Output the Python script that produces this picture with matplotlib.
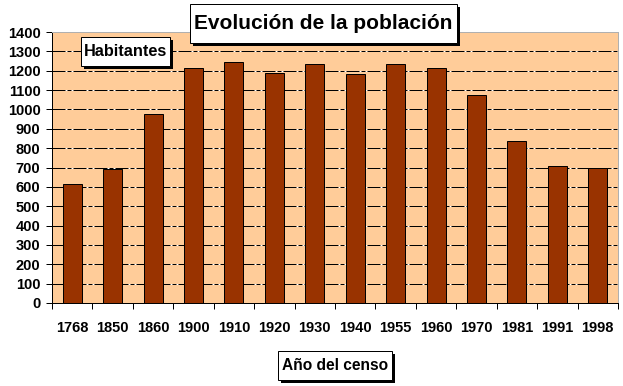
import matplotlib
matplotlib.use('Agg')
import matplotlib.pyplot as plt
from matplotlib.patches import Rectangle
import numpy as np

plt.rcParams['font.family'] = ['Liberation Sans', 'DejaVu Sans']

years = ['1768', '1850', '1860', '1900', '1910', '1920', '1930',
         '1940', '1955', '1960', '1970', '1981', '1991', '1998']
habitantes = [615, 692, 976, 1214, 1245, 1188, 1234,
              1183, 1234, 1214, 1074, 837, 708, 697]

W, H = 623, 386
PX = 72 / 100  # one pixel in points

fig = plt.figure(figsize=(W / 100, H / 100), dpi=100)
ax = fig.add_axes([52 / W, 1 - 303 / H, 566 / W, 271 / H])
ax.set_facecolor('#FFCC99')

x = np.arange(len(years))
ax.set_xlim(-0.5, len(years) - 0.5)
ax.set_ylim(0, 1400)

# gridlines: white base with black dash-dot on top
for v in range(100, 1500, 100):
    ax.axhline(v, color='white', lw=PX, zorder=1)
    ax.axhline(v, color='black', lw=PX, zorder=1.1, dashes=(13, 2, 4, 2))

ax.bar(x, habitantes, width=0.47, color='#993300', edgecolor='black',
       linewidth=PX, zorder=3)

ax.set_yticks(range(0, 1500, 100))
ax.tick_params(axis='y', direction='out', length=6 * PX, width=PX, pad=4,
               labelsize=10.5)
for t in ax.get_yticklabels():
    t.set_fontweight('bold')

ax.set_xticks(x)
ax.set_xticklabels(years, fontsize=10.5, fontweight='bold')
ax.tick_params(axis='x', length=0, pad=13)
ax.set_xticks(np.arange(-0.5, len(years)), minor=True)
ax.tick_params(axis='x', which='minor', direction='out', length=6 * PX, width=PX)

for s in ['left', 'bottom']:
    ax.spines[s].set_color('black')
    ax.spines[s].set_linewidth(PX)
for s in ['top', 'right']:
    ax.spines[s].set_color('#b0b0b0')
    ax.spines[s].set_linewidth(PX)


def boxed(x0, y0, x1, y1, text, size):
    # box given in pixel coords from the top-left, with a 3px black shadow
    fx = lambda px: px / W
    fy = lambda py: 1 - py / H
    fig.add_artist(Rectangle((fx(x0 + 3), fy(y1 + 3)), fx(x1 - x0), (y1 - y0) / H,
                             transform=fig.transFigure, fc='black', ec='none', zorder=9))
    fig.add_artist(Rectangle((fx(x0), fy(y1)), fx(x1 - x0), (y1 - y0) / H,
                             transform=fig.transFigure, fc='white', ec='black',
                             lw=PX, zorder=10))
    fig.text(fx((x0 + x1) / 2), fy((y0 + y1) / 2), text, fontsize=size,
             fontweight='bold', ha='center', va='center', zorder=11)


boxed(190, 4, 457, 43, 'Evolución de la población', 15)
boxed(81, 37, 170, 66, 'Habitantes', 11.7)
boxed(278, 351, 392, 380, 'Año del censo', 11.2)

fig.savefig('out.png', dpi=100)
